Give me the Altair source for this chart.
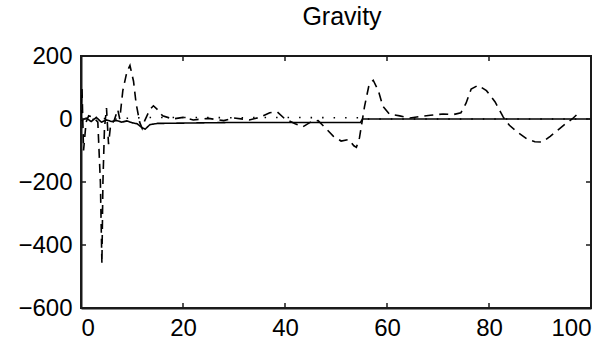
import altair as alt
import pandas as pd

# Solid series
solid_x = [0, 1, 2, 3, 4, 5, 6, 7, 8, 9, 10, 11, 12, 12.6, 13.5, 15, 20, 25, 30, 40, 50, 54.8, 55.2, 60, 70, 80, 90, 100]
solid_y = [-5, 3, -8, 5, -10, -3, -8, -5, -10, -6, -12, -15, -28, -32, -18, -14, -13, -12, -11, -11, -11, -11, 0, 0, 0, 0, 0, 0]

# Dashed series
dashed_x = [0, 0.2, 0.5, 1.0, 1.5, 2.5, 3.3, 3.8, 4.1, 4.3, 4.6, 5.0, 5.4, 5.8, 6.5, 7.2, 7.6, 8.2, 9.0, 9.6,
            10.3, 10.8, 11.5, 12.0, 12.5, 13.5, 14.2, 15, 16, 18, 20, 22, 25, 28, 30, 33, 35, 37, 38.5, 40,
            42, 43.5, 45, 46.5, 48, 49.5, 51, 52.5, 53.5, 54, 54.6, 55.2, 55.6, 56.5, 57.3, 58.3, 59.2, 60.5,
            62.5, 64.5, 66.5, 68.5, 71, 73, 74.5, 75.5, 76.5, 77.9, 79.5, 81.2, 82.8, 84, 85.5, 87.5, 89, 90.5,
            92, 93.5, 95, 96.3, 97.5]
dashed_y = [0, 95, -100, -10, 10, 5, -10, -200, -460, -200, -30, 35, -80, -20, -5, 30, 0, 90, 150, 170,
            120, 50, -10, -30, -5, 30, 42, 30, 10, 0, 5, -3, 2, -5, 3, -3, 5, 20, 22, 0,
            -15, -25, -10, -5, -30, -55, -70, -65, -85, -90, -60, 0, 40, 110, 123, 90, 40, 15,
            10, 3, 8, 12, 16, 14, 20, 50, 95, 107, 90, 54, 6, -20, -41, -64, -72, -73,
            -55, -35, -15, 0, 18]

# Dotted series
dotted_x = [0, 2, 4, 6, 8, 10, 12, 14, 20, 30, 40, 50, 55, 55.5, 100]
dotted_y = [2, -2, 3, -2, 2, 3, 4, 5, 5, 4, 5, 4, 4, 0, 0]

x_ticks = [0, 20, 40, 60, 80, 100]
y_ticks = [-600, -400, -200, 0, 200]

rows = []
for name, xs, ys in [("solid", solid_x, solid_y), ("dashed", dashed_x, dashed_y), ("dotted", dotted_x, dotted_y)]:
    for i, (a, b) in enumerate(zip(xs, ys)):
        rows.append({"series": name, "x": a, "y": b, "order": i})
df = pd.DataFrame(rows)

FONT = "Liberation Sans"
INK = "#1a1a1a"
W, H = 510, 252
TL = 5
xscale = alt.Scale(domain=[0, 100], nice=False, zero=False)
yscale = alt.Scale(domain=[-600, 200], nice=False, zero=False)

lines = alt.Chart(df).mark_line(color="black", strokeWidth=1.6, clip=True).encode(
    x=alt.X("x:Q", scale=xscale,
            axis=alt.Axis(values=x_ticks, title=None, grid=False, tickSize=0, labelPadding=8,
                          labelFont=FONT, labelFontSize=24, labelColor="black",
                          domainColor=INK, domainWidth=2)),
    y=alt.Y("y:Q", scale=yscale,
            axis=alt.Axis(values=y_ticks, title=None, grid=False, tickSize=0, labelPadding=9,
                          labelFont=FONT, labelFontSize=24, labelColor="black",
                          domainColor=INK, domainWidth=2, minExtent=76)),
    strokeDash=alt.StrokeDash("series:N", legend=None,
                              scale=alt.Scale(domain=["solid", "dashed", "dotted"],
                                              range=[[1, 0], [9, 6], [1.5, 10]])),
    detail="series:N",
    order="order:Q",
)

xt = pd.DataFrame({"v": x_ticks[1:-1]})
yt = pd.DataFrame({"v": y_ticks[1:-1]})

xb = alt.Chart(xt).mark_rule(color=INK, strokeWidth=1.5).encode(
    x=alt.X("v:Q", scale=xscale), y=alt.value(H), y2=alt.value(H - TL))
xtop = alt.Chart(xt).mark_rule(color=INK, strokeWidth=1.5).encode(
    x=alt.X("v:Q", scale=xscale), y=alt.value(0), y2=alt.value(TL))
yl = alt.Chart(yt).mark_rule(color=INK, strokeWidth=1.5).encode(
    y=alt.Y("v:Q", scale=yscale), x=alt.value(0), x2=alt.value(TL))
yr = alt.Chart(yt).mark_rule(color=INK, strokeWidth=1.5).encode(
    y=alt.Y("v:Q", scale=yscale), x=alt.value(W), x2=alt.value(W - TL))

chart = alt.layer(lines, xb, xtop, yl, yr).properties(
    width=W, height=H,
    title=alt.TitleParams("Gravity", font=FONT, fontSize=25, fontWeight="normal",
                          color="black", anchor="middle", offset=14, dx=6),
).configure_view(stroke=INK, strokeWidth=2)

chart.save("out.html", embed_options={"renderer": "svg", "actions": False})
